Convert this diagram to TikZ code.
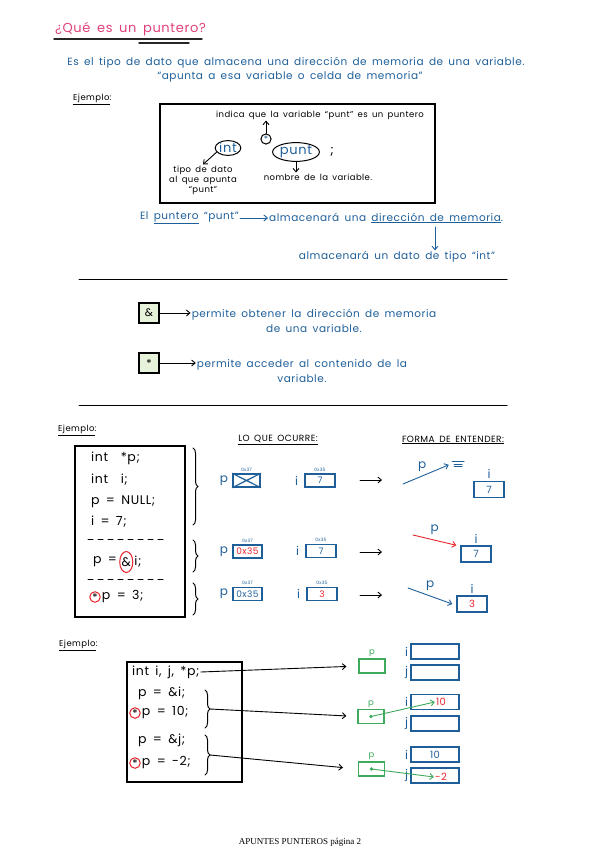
\documentclass[tikz,border=0pt]{standalone}
\usepackage{fontspec}
\setmainfont[LetterSpace=5,WordSpace=1.6]{Poppins}
\newfontfamily\footfont{Liberation Serif}
\usepackage{xcolor}
\usetikzlibrary{positioning,shapes.geometric,decorations.pathreplacing,arrows.meta}
\definecolor{ink}{HTML}{1F5F99}
\definecolor{pink}{HTML}{E0407A}
\definecolor{hlred}{HTML}{E8232B}
\definecolor{leaf}{HTML}{3DAA5C}
\definecolor{mint}{HTML}{E6F2DA}

\begin{document}
\begin{tikzpicture}[x=1pt,y=-1pt,line cap=round,>={Straight Barb[length=3.5pt,width=6pt]},
      every node/.style={font=\fontsize{9}{11}\selectfont,inner sep=1pt},
      note/.style={text=ink,font=\fontsize{10.5}{14.5}\selectfont},
      smalltxt/.style={font=\fontsize{8.5}{10}\selectfont},
      header/.style={font=\fontsize{9}{11}\selectfont},
      addr/.style={font=\fontsize{4.5}{5}\selectfont,text=ink},
      var/.style={text=ink,font=\fontsize{12}{14}\selectfont},
      code/.style={font=\fontsize{12.5}{14}\selectfont,anchor=west},
      redmark/.style={draw=hlred,line width=1pt,inner sep=0.3pt},
      cell/.style={draw=ink,line width=1.4pt,minimum width=30pt,minimum height=13pt,text=ink},
      bigcell/.style={cell,minimum height=16pt,font=\fontsize{10}{12}\selectfont},
      opbox/.style={draw,line width=1.3pt,fill=mint,minimum size=20pt,font=\fontsize{11}{13}\selectfont},
      ptrbox/.style={draw=leaf,line width=1.2pt,minimum width=26pt,minimum height=14pt},
      membox/.style={draw=ink,line width=1.4pt,minimum width=48pt,minimum height=15pt},
      frame/.style={draw,line width=1.5pt},
      arrow/.style={->,line width=0.9pt},
      brace/.style={decorate,decoration={brace,amplitude=5pt},line width=1pt}]
  \useasboundingbox (0,0) rectangle (600,848);

  % titulo
  \node[anchor=west,text=pink,font=\fontsize{13}{16}\selectfont] (title) at (54,29) {¿Qué es un puntero?};
  \draw[line width=1.4pt,black!85] (title.south west) ++(0,2) -- ++(148,0);
  \draw[line width=1.4pt,black!85] (139,43) -- (189,43);
  \node[note] (def1) at (296,63) {Es el tipo de dato que almacena una dirección de memoria de una variable.};
  \node[note] (def2) at (290,77) {“apunta a esa variable o celda de memoria”};

  % primer ejemplo
  \node[anchor=west,smalltxt] (ej1) at (72,99) {\underline{Ejemplo}:};
  \node[frame,minimum width=275pt,minimum height=99pt] (decl) at (297.5,153.5) {};
  \node[smalltxt] (indica) at (320,115) {indica que la variable “punt” es un puntero};
  \node[circle,draw,line width=1pt,text=ink,inner sep=0.8pt] (star) at (266,139) {*};
  \node[ellipse,draw,line width=1pt,text=ink,font=\fontsize{13}{15}\selectfont,inner sep=0.3pt] (int) at (228,148) {int};
  \node[ellipse,draw,line width=1pt,text=ink,font=\fontsize{13}{15}\selectfont,inner sep=0.5pt] (punt) at (296,152) {punt};
  \node[font=\fontsize{13}{15}\selectfont] (semi) at (332,152) {;};
  \node[smalltxt,align=center] (tipodato) at (203,180) {tipo de dato\\al que apunta\\“punt”};
  \node[smalltxt] (nombre) at (318,177) {nombre de la variable.};
  \draw[arrow] (star) -- (star |- indica.south);
  \draw[arrow] (int.200) -- (tipodato.north);
  \draw[arrow] (punt.south) -- (punt.south |- nombre.north);

  % que guarda el puntero
  \node[note,anchor=east] (frase1) at (240,218) {El \underline{puntero} “punt”};
  \node[note,anchor=west] (frase2) at (268,218) {almacenará una \underline{dirección de memoria}.};
  \draw[arrow,ink] (frase1) -- (frase2);
  \coordinate (dirmem) at (435,227);
  \node[note] (tipoint) at (397,257) {almacenará un dato de tipo “int”};
  \draw[arrow,ink] (dirmem) -- (dirmem |- tipoint.north);
  \draw[line width=1pt] (79,279) -- (507,279);

  % operadores
  \node[opbox] (amp) at (149,313) {\&};
  \node[note,align=center] (ampnote) at (314,321) {permite obtener la dirección de memoria\\de una variable.};
  \draw[arrow] (amp) -- (amp -| ampnote.west);
  \node[opbox] (ast) at (149,363) {*};
  \node[note,align=center] (astnote) at (302,371) {permite acceder al contenido de la\\variable.};
  \draw[arrow] (ast) -- (ast -| astnote.west);
  \draw[line width=1pt] (79,405) -- (507,405);

  % segundo ejemplo
  \node[anchor=west,smalltxt] (ej2) at (57,430) {\underline{Ejemplo}:};
  \node[frame,minimum width=110pt,minimum height=171pt] (code) at (130,531.5) {};
  \node[code] (l1) at (90,458) {int \ *p;};
  \node[code] (l2) at (90,480) {int \ i;};
  \node[code] (l3) at (90,502) {p = NULL;};
  \node[code] (l4) at (90,522) {i = 7;};
  \draw[line width=1pt,dash pattern=on 5pt off 5pt] (88,539) -- (165,539);
  \node[code] (l5a) at (92,562) {p =};
  \node[redmark,ellipse,minimum width=11pt,minimum height=21pt,inner sep=0pt,right=1pt of l5a,font=\fontsize{12.5}{14}\selectfont] (l5amp) {\&};
  \node[code,right=0pt of l5amp] (l5b) {i;};
  \draw[line width=1pt,dash pattern=on 5pt off 5pt] (88,579) -- (165,579);
  \node[redmark,circle,font=\fontsize{11}{13}\selectfont] (l6ast) at (95,597) {*};
  \node[code,right=0pt of l6ast] (l6) {p = 3;};
  \draw[brace] (193,448) -- (193,525);
  \draw[brace] (193,540) -- (193,572);
  \draw[brace] (193,583) -- (193,615);

  \node[header] (ocurre) at (278,440) {\underline{LO QUE OCURRE:}};
  \node[header] (entender) at (453,440) {\underline{FORMA DE ENTENDER:}};

  % fila 1
  \node[cell,minimum width=27pt] (pA) at (246.5,480.5) {};
  \draw[ink,line width=1.2pt] (pA.north west) -- (pA.south east) (pA.south west) -- (pA.north east);
  \node[var,left=3pt of pA] (pAl) {p};
  \node[addr,above=1pt of pA] (pAad) {0x37};
  \node[cell] (iA) at (320,480.5) {7};
  \node[var,left=5pt of iA] (iAl) {i};
  \node[addr,above=1pt of iA] (iAad) {0x35};
  \coordinate (gA1) at (360,480); \coordinate (gA2) at (382,480);
  \draw[arrow] (gA1) -- (gA2);
  \coordinate (tailA) at (403,484); \coordinate (nullA) at (458,461);
  \draw[arrow,ink,shorten >=10pt] (tailA) -- node[var,pos=0.35,above=3pt] (pAv) {p} (nullA);
  \draw[ink,line width=1pt] (nullA) ++(-6,0) -- ++(12,0) ++(-10,3) -- ++(8,0) ++(-8,2.5) -- ++(8,0);
  \node[bigcell] (iAv) at (489,489.5) {7};
  \node[var,above=1pt of iAv] (iAvl) {i};

  % fila 2
  \node[cell,minimum width=29pt,text=hlred] (pB) at (247.5,551.5) {0x35};
  \node[var,left=3pt of pB] (pBl) {p};
  \node[addr,above=1pt of pB] (pBad) {0x37};
  \node[cell] (iB) at (321,551) {7};
  \node[var,left=5pt of iB] (iBl) {i};
  \node[addr,above=1pt of iB] (iBad) {0x35};
  \coordinate (gB1) at (360,552); \coordinate (gB2) at (382,552);
  \draw[arrow] (gB1) -- (gB2);
  \node[bigcell] (iBv) at (476,554) {7};
  \node[var,above=1pt of iBv] (iBvl) {i};
  \coordinate (tailB) at (413,535);
  \draw[arrow,hlred] (tailB) -- node[var,pos=0.5,above=4pt] (pBv) {p} ([xshift=-4pt]iBv.north west);

  % fila 3
  \node[cell,minimum width=29pt] (pC) at (247.5,594) {0x35};
  \node[var,left=3pt of pC] (pCl) {p};
  \node[addr,above=1pt of pC] (pCad) {0x37};
  \node[cell,text=hlred] (iC) at (322,594) {3};
  \node[var,left=5pt of iC] (iCl) {i};
  \node[addr,above=1pt of iC] (iCad) {0x35};
  \coordinate (gC1) at (360,595); \coordinate (gC2) at (382,595);
  \draw[arrow] (gC1) -- (gC2);
  \node[bigcell,text=hlred] (iCv) at (472,604) {3};
  \node[var,above=1pt of iCv] (iCvl) {i};
  \coordinate (tailC) at (408,588);
  \draw[arrow,ink] (tailC) -- node[var,pos=0.5,above=4pt] (pCv) {p} ([xshift=-4pt]iCv.west);

  % tercer ejemplo
  \node[anchor=west,smalltxt] (ej3) at (58,645) {\underline{Ejemplo}:};
  \node[frame,minimum width=115pt,minimum height=120pt] (code2) at (184.5,722) {};
  \node[code] (m1) at (131,672) {int i, j, *p;};
  \node[code] (m2) at (137,693) {p = \&i;};
  \node[redmark,circle,font=\fontsize{11}{13}\selectfont] (m3ast) at (135,713) {*};
  \node[code,right=0pt of m3ast] (m3) {p = 10;};
  \node[code] (m4) at (137,740) {p = \&j;};
  \node[redmark,circle,font=\fontsize{11}{13}\selectfont] (m5ast) at (135,763) {*};
  \node[code,right=0pt of m5ast] (m5) {p = -2;};
  \draw[brace] (205,690) -- (205,728);
  \draw[brace] (205,735) -- (205,775);
  \coordinate (b1) at (210,709); \coordinate (b2) at (210,755);

  % memoria
  \node[ptrbox] (pg1) at (372,666) {};
  \node[text=leaf,smalltxt,above=0pt of pg1] (pg1l) {p};
  \node[membox] (i1) at (435,651.5) {};
  \node[membox] (j1) at (435,672.5) {};
  \node[var,left=1pt of i1] (i1l) {i};
  \node[var,left=1pt of j1] (j1l) {j};

  \node[ptrbox] (pg2) at (371,716.5) {};
  \node[text=leaf,smalltxt,above=0pt of pg2] (pg2l) {p};
  \node[membox] (i2) at (435,702) {};
  \node[membox] (j2) at (435,723.5) {};
  \node[var,left=1pt of i2] (i2l) {i};
  \node[var,left=1pt of j2] (j2l) {j};
  \node[text=hlred,font=\fontsize{10}{12}\selectfont] (v2) at (441,702) {10};

  \node[ptrbox] (pg3) at (371.5,769) {};
  \node[text=leaf,smalltxt,above=0pt of pg3] (pg3l) {p};
  \node[membox,text=ink,font=\fontsize{10}{12}\selectfont] (i3) at (435,754.5) {10};
  \node[membox] (j3) at (435,775.5) {};
  \node[var,left=1pt of i3] (i3l) {i};
  \node[var,left=1pt of j3] (j3l) {j};
  \node[text=hlred,font=\fontsize{10}{12}\selectfont] (v3) at (441,777) {-2};

  \draw[arrow,shorten >=12pt] (m1.east) -- (pg1.west);
  \draw[arrow,shorten >=11pt] (b1) -- (pg2.west);
  \draw[arrow,shorten >=15pt] (b2) -- (pg3.west);
  \fill[leaf] (pg2.center) circle (1.8);
  \draw[arrow,leaf] (pg2.center) -- (v2.west);
  \fill[leaf] (pg3.center) circle (1.8);
  \draw[arrow,leaf] (pg3.center) -- (v3.west);

  \node[font=\footfont\fontsize{9}{11}\selectfont] (foot) at (300,842) {APUNTES PUNTEROS página 2};
\end{tikzpicture}
\end{document}
